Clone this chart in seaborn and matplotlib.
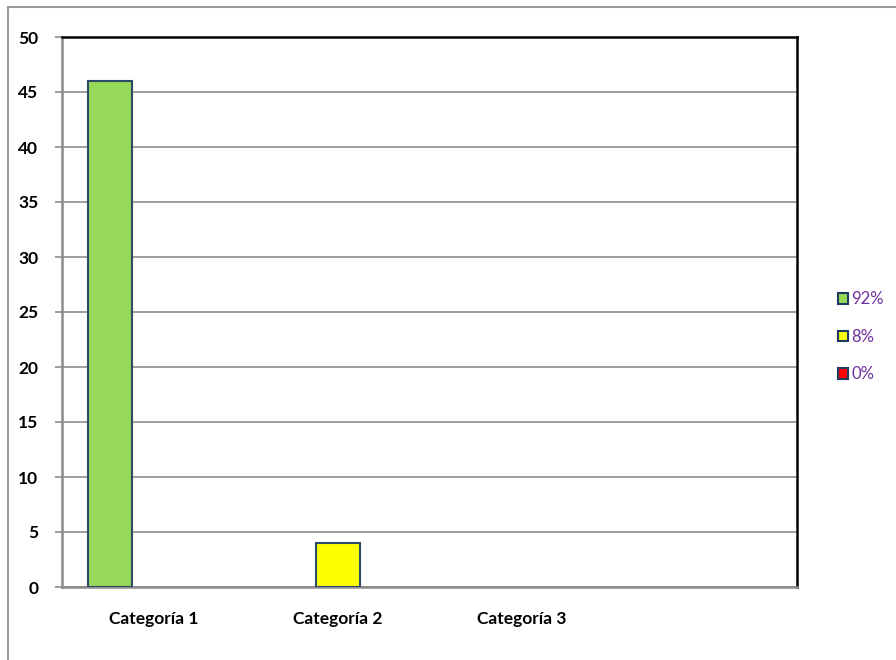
import matplotlib
matplotlib.use("Agg")
import matplotlib.pyplot as plt
import matplotlib.patches as mpatches
import pandas as pd
import seaborn as sns

# data
categories = ["Categoría 1", "Categoría 2", "Categoría 3", ""]
series = ["92%", "8%", "0%"]
serie_92 = [46, 0, 0, 0]
serie_8 = [0, 4, 0, 0]
serie_0 = [0, 0, 0, 0]
colores = ["#96D857", "#FFFF00", "#FF0000"]

rows = []
for nombre, vals in zip(series, [serie_92, serie_8, serie_0]):
    for cat, v in zip(categories, vals):
        rows.append({"cat": cat, "serie": nombre, "valor": v})
df = pd.DataFrame(rows)

sns.set_style("white")
plt.rcParams['font.family'] = ['Lato', 'DejaVu Sans']

fig = plt.figure(figsize=(8.96, 6.6), dpi=100)
ax = fig.add_axes([62 / 896, 1 - 587 / 660, (797 - 62) / 896, (587 - 37) / 660])

# outer frame of the chart area
fig.patches.append(mpatches.Rectangle((8 / 896, -0.05), 1.2, 1 - 7 / 660 + 0.05,
                                      transform=fig.transFigure, fill=False,
                                      edgecolor="#9A9A9A", linewidth=1.5))

sns.barplot(data=df, x="cat", y="valor", hue="serie", order=categories,
            hue_order=series, palette=colores, saturation=1, width=0.72, ax=ax,
            edgecolor="#2E4A6B", linewidth=1.5, legend=False, zorder=3)
for p in ax.patches:
    if p.get_height() == 0:
        p.set_visible(False)

ax.set_ylim(0, 50)
ax.set_xlim(-0.5, 3.5)
ax.set_yticks(range(0, 51, 5))
ax.yaxis.grid(True, color="#8C8C8C", linewidth=1.2, zorder=0)
ax.set_axisbelow(True)
ax.set_xlabel("")
ax.set_ylabel("")

ax.set_xticks([0, 1, 2, 3])
ax.set_xticklabels(categories, fontsize=12.5, fontweight="bold", color="black")
ax.tick_params(axis="x", which="major", length=0, pad=17)
ax.set_xticks([-0.5, 0.5, 1.5, 2.5, 3.5], minor=True)
ax.tick_params(axis="x", which="minor", length=5, color="#8C8C8C", width=1.2)
ax.tick_params(axis="y", length=5, color="#8C8C8C", width=1.2, left=True,
               labelsize=12.5, pad=12, labelcolor="black")
for lbl in ax.get_yticklabels():
    lbl.set_fontweight("bold")

for s in ["left", "bottom"]:
    ax.spines[s].set_color("#8C8C8C")
    ax.spines[s].set_linewidth(1.8)
for s in ["top", "right"]:
    ax.spines[s].set_color("black")
    ax.spines[s].set_linewidth(1.8)

handles = [mpatches.Patch(facecolor=c, edgecolor="#1F3A60", linewidth=1.5)
           for c in colores]
leg = ax.legend(handles, series, loc="center left", bbox_to_anchor=(1.035, 0.455),
                frameon=False, handlelength=0.6, handleheight=0.6,
                handletextpad=0.2, labelspacing=1.3, fontsize=12,
                labelcolor="#7030A0")

fig.savefig("out.png", dpi=100, facecolor="white")
